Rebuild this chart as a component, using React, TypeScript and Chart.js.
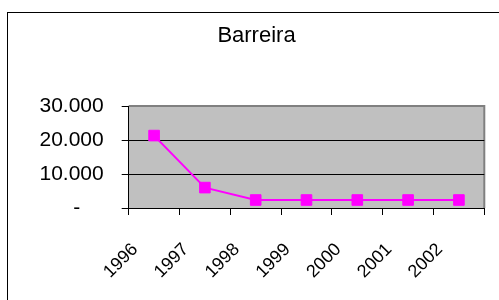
import React, { useEffect, useRef } from "react";
import { Chart, registerables } from "chart.js";

Chart.register(...registerables);

const title = "Barreira";
const years = ["1996", "1997", "1998", "1999", "2000", "2001", "2002"];
const values = [21300, 6000, 2350, 2350, 2350, 2350, 2350];
const yTicks = [0, 10000, 20000, 30000];

function fmt(v: number): string {
  if (v === 0) return "-    ";
  const s = Math.round(v).toString();
  return s.replace(/\B(?=(\d{3})+(?!\d))/g, ".");
}

const bgPlugin = {
  id: "plotBg",
  beforeDraw(chart: any) {
    const { ctx, chartArea: a } = chart;
    ctx.save();
    ctx.fillStyle = "#C0C0C0";
    ctx.fillRect(a.left, a.top, a.right - a.left, a.bottom - a.top);
    ctx.strokeStyle = "#808080";
    ctx.lineWidth = 2;
    ctx.beginPath();
    ctx.moveTo(a.left, a.top);
    ctx.lineTo(a.right, a.top);
    ctx.lineTo(a.right, a.bottom);
    ctx.stroke();
    ctx.restore();
  },
};

export default function App() {
  const ref = useRef<HTMLCanvasElement>(null);
  useEffect(() => {
    if (!ref.current) return;
    Chart.defaults.font.family = "Arial, 'Liberation Sans', sans-serif";
    const chart = new Chart(ref.current, {
      type: "line",
      data: {
        labels: years,
        datasets: [
          {
            data: values,
            borderColor: "#FF00FF",
            backgroundColor: "#FF00FF",
            borderWidth: 2,
            pointStyle: "rect",
            pointRadius: 7.5,
            pointBorderWidth: 1,
            pointBackgroundColor: "#FF00FF",
            pointBorderColor: "#FF00FF",
            tension: 0,
          },
        ],
      },
      options: {
        responsive: false,
        animation: false,
        devicePixelRatio: 1,
        layout: { padding: 0 },
        plugins: {
          legend: { display: false },
          tooltip: { enabled: false },
          title: {
            display: true,
            text: title,
            color: "#000",
            font: { size: 22, weight: "normal" },
            padding: { top: 10.2, bottom: 56.4 },
          },
        },
        scales: {
          x: {
            offset: true,
            grid: {
              offset: true,
              drawOnChartArea: false,
              tickLength: 7,
              tickColor: "#000",
              color: "#000",
            },
            border: { color: "#000", width: 1 },
            ticks: {
              autoSkip: false,
              minRotation: 45,
              maxRotation: 45,
              color: "#000",
              font: { size: 18 },
              padding: 24,
              labelOffset: -19,
            },
            afterFit: (s: any) => {
              s.height = 92;
            },
          },
          y: {
            min: 0,
            max: 30000,
            afterBuildTicks: (s: any) => {
              s.ticks = yTicks.map((v) => ({ value: v }));
            },
            ticks: {
              color: "#000",
              font: { size: 21 },
              padding: 18,
              callback: (v: any) => fmt(Number(v)),
            },
            grid: {
              color: (c: any) => (c.tick && c.tick.value === 30000 ? "#808080" : "#000"),
              tickColor: "#000",
              tickLength: 7,
              lineWidth: 1,
            },
            border: { color: "#000", width: 1 },
            afterFit: (s: any) => {
              s.width = 120.7;
            },
          },
          yRight: {
            position: "right",
            display: true,
            grid: { display: false, drawOnChartArea: false },
            ticks: { display: false },
            border: { display: false },
            afterFit: (s: any) => {
              s.width = 20.7;
            },
          },
        },
      },
      plugins: [bgPlugin],
    });
    return () => chart.destroy();
  }, []);

  return (
    <div
      style={{
        position: "fixed",
        left: 0,
        top: 0,
        width: 499,
        height: 300,
        overflow: "hidden",
        background: "#fff",
      }}
    >
      <div
        style={{
          position: "absolute",
          left: 7,
          top: 12,
          width: 530,
          height: 330,
          border: "1px solid #000",
          boxSizing: "border-box",
        }}
      />
      <canvas
        ref={ref}
        width={497}
        height={287}
        style={{ position: "absolute", left: 8, top: 13, width: 497, height: 287 }}
      />
    </div>
  );
}
